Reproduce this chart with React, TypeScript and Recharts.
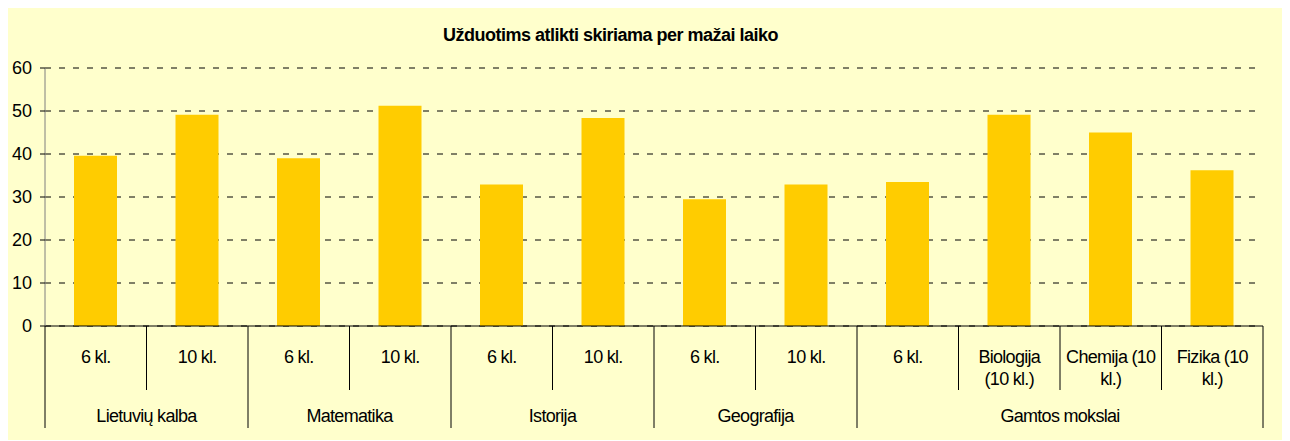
import { Bar, BarChart, CartesianGrid, XAxis, YAxis } from "recharts";

const categories = [
  "6 kl.",
  "10 kl.",
  "6 kl.",
  "10 kl.",
  "6 kl.",
  "10 kl.",
  "6 kl.",
  "10 kl.",
  "6 kl.",
  "Biologija\n(10 kl.)",
  "Chemija (10\nkl.)",
  "Fizika (10\nkl.)",
];
const values = [39.6, 49.1, 39.0, 51.2, 32.9, 48.4, 29.5, 32.9, 33.5, 49.1, 45.0, 36.2];
const groupNames = ["Lietuvių kalba", "Matematika", "Istorija", "Geografija", "Gamtos mokslai"];
const groupSizes = [2, 2, 2, 2, 4];
const yTicks = [0, 10, 20, 30, 40, 50, 60];

const data = categories.map((name, i) => ({ name, value: values[i] }));

const W = 1283;
const H = 433;
const MARGIN = { top: 61, right: 27, left: 0, bottom: 0 };
const Y_WIDTH = 38;
const STEP = (W - MARGIN.right - MARGIN.left - Y_WIDTH) / categories.length;
const FONT = "'Liberation Sans', Arial, sans-serif";

// group start indexes
const groupStarts: number[] = [];
groupSizes.reduce((acc, s) => {
  groupStarts.push(acc);
  return acc + s;
}, 0);

const CategoryTick = (props: any) => {
  const { x, y, payload } = props;
  const idx = payload.index;
  const lines = String(payload.value).split("\n");
  const g = groupStarts.indexOf(idx);
  const isLast = idx === categories.length - 1;
  return (
    <g>
      <line
        x1={x - STEP / 2}
        x2={x - STEP / 2}
        y1={y}
        y2={y + (g >= 0 ? 102 : 64)}
        stroke="#000"
      />
      {isLast && (
        <line x1={x + STEP / 2} x2={x + STEP / 2} y1={y} y2={y + 102} stroke="#000" />
      )}
      <text
        x={x}
        y={y + 37}
        textAnchor="middle"
        fontSize={18}
        letterSpacing={-0.7}
        fontFamily={FONT}
        fill="#000">
        {lines.map((l, i) => (
          <tspan key={i} x={x} dy={i === 0 ? 0 : 22}>
            {l}
          </tspan>
        ))}
      </text>
      {g >= 0 && (
        <text
          x={x + ((groupSizes[g] - 1) / 2) * STEP}
          y={y + 96}
          textAnchor="middle"
          fontSize={18}
          letterSpacing={-0.7}
          fontFamily={FONT}
          fill="#000">
          {groupNames[g]}
        </text>
      )}
    </g>
  );
};

export default function App() {
  return (
    <div
      style={{
        position: "relative",
        width: W,
        height: H,
        margin: "-1px 0 0 -1px",
        background: "#FFFFCC",
      }}>
      <div
        style={{
          position: "absolute",
          left: 0,
          top: 18,
          width: 1207,
          textAlign: "center",
          fontFamily: FONT,
          fontWeight: "bold",
          fontSize: 18,
          letterSpacing: -0.5,
          lineHeight: "20px",
          color: "#000",
        }}>
        Užduotims atlikti skiriama per mažai laiko
      </div>
      <BarChart width={W} height={H} data={data} margin={MARGIN}>
        <CartesianGrid
          horizontal
          vertical={false}
          stroke="#000"
          strokeDasharray="6 8"
        />
        <XAxis
          dataKey="name"
          interval={0}
          height={114}
          tickLine={false}
          tickSize={0}
          tickMargin={0}
          axisLine={{ stroke: "#000" }}
          tick={<CategoryTick />}
        />
        <YAxis
          domain={[0, 60]}
          ticks={yTicks}
          width={Y_WIDTH}
          tickSize={5}
          tickMargin={8}
          axisLine={{ stroke: "#7f7f7f" }}
          tickLine={{ stroke: "#000" }}
          tick={{ fill: "#000", fontSize: 18, fontFamily: FONT }}
        />
        <Bar dataKey="value" fill="#FFCC00" barSize={43} isAnimationActive={false} />
      </BarChart>
    </div>
  );
}
